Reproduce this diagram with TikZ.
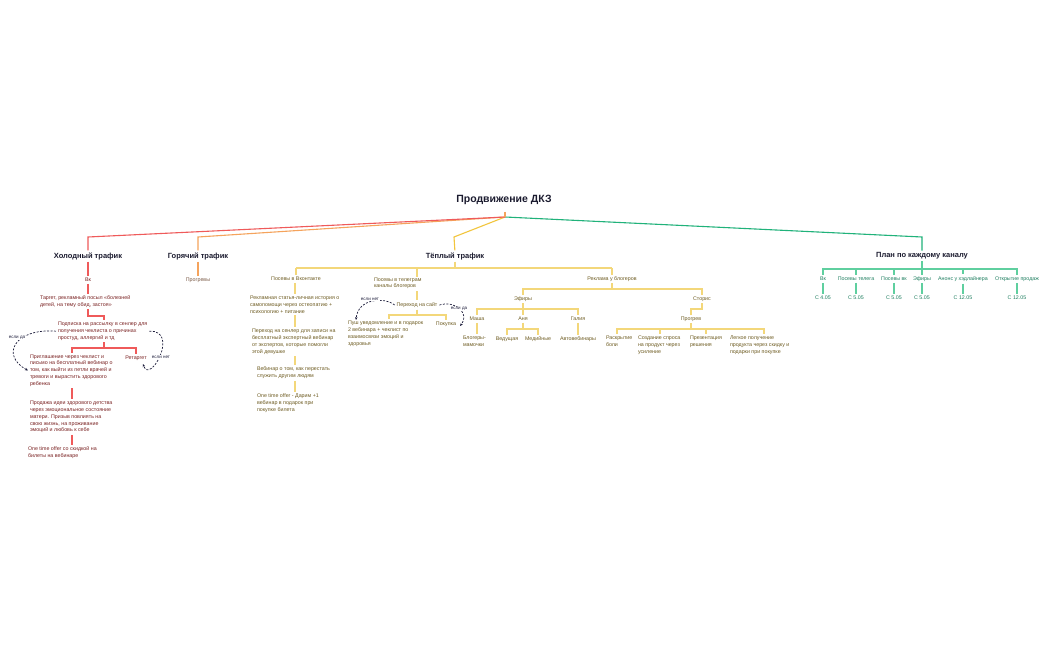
\documentclass[tikz,border=0pt]{standalone}
\usepackage{fontspec}
\setmainfont{Liberation Sans}
\usetikzlibrary{arrows.meta}
\definecolor{titlec}{HTML}{1B1B2F}
\definecolor{redl}{HTML}{EF5A5A}
\definecolor{redt}{HTML}{7A2222}
\definecolor{orl}{HTML}{F5A35C}
\definecolor{hott}{HTML}{7A5A46}
\definecolor{yell}{HTML}{F2C53D}
\definecolor{yelsub}{HTML}{F3D77A}
\definecolor{warmt}{HTML}{6E5C22}
\definecolor{grl}{HTML}{20B27A}
\definecolor{grsub}{HTML}{5FCF9F}
\definecolor{plant}{HTML}{1F7F60}
\definecolor{dashc}{HTML}{1B1B3A}
\begin{document}
\begin{tikzpicture}[x=1pt,y=-1pt,
 base/.style={inner sep=0pt, outer sep=0pt},
 ttl/.style={base, font=\fontsize{7.5}{9}\selectfont\bfseries, text=titlec},
 sm/.style={base, font=\fontsize{5.3}{6.8}\selectfont, align=left},
 ct/.style={sm, text=redt},
 ht/.style={sm, text=hott},
 wt/.style={sm, text=warmt},
 plt/.style={sm, text=plant},
 sh/.style={shorten <=2pt, shorten >=2pt},
 rl/.style={draw=redl, line width=1.1pt},
 ol/.style={draw=orl, line width=1.1pt},
 yl/.style={draw=yell, line width=1.1pt},
 ys/.style={draw=yelsub, line width=1.1pt},
 gl/.style={draw=grl, line width=1.1pt},
 gs/.style={draw=grsub, line width=1.1pt},
 dsh/.style={draw=dashc, dash pattern=on 2pt off 1.5pt, line width=0.7pt, -{Stealth[length=3pt,width=2.5pt]}},
 lbl/.style={base, fill=white, inner sep=0.6pt, font=\fontsize{4.5}{5}\selectfont, text=dashc}
]
\useasboundingbox[fill=white] (0,0) rectangle (1050,650);

% ---------- root ----------
\node[base, font=\fontsize{10.5}{12}\selectfont\bfseries, text=titlec] (root) at (504,200) {Продвижение ДКЗ};
\coordinate (hub) at (505,217);

% ---------- titles ----------
\node[ttl] (cold) at (88,256) {Холодный трафик};
\node[ttl] (hot) at (198,256) {Горячий трафик};
\node[ttl] (warm) at (455,256) {Тёплый трафик};
\node[ttl] (plan) at (922,256) {План по каждому каналу};

\draw[gl,shorten >=2pt] (hub) -- (922,237) -- (plan.north);
\draw[yl,shorten >=2pt] (hub) -- (454,237) -- (warm.north);
\draw[ol,shorten >=2pt] (hub) -- (198,237) -- (hot.north);
\draw[rl,shorten >=2pt] (hub) -- (88,237) -- (cold.north);
\draw[ol] ([yshift=-7pt]root.south -| hub) -- (hub);

% ---------- cold ----------
\node[ct] (cvk) at (88,280) {Вк};
\node[ct, anchor=north west] (targ) at (40,295.5) {Таргет, рекламный посыл «болезней\\детей, на тему обид, застоя»};
\node[ct, anchor=north west] (podp) at (58,322) {Подписка на рассылку в сенлер для\\получения чеклиста о причинах\\простуд, аллергий и тд};
\node[ct, anchor=north west] (prig) at (30,354.5) {Приглашение через чеклист и\\письмо на бесплатный вебинар о\\том, как выйти из петли врачей и\\тревоги и вырастить здорового\\ребенка};
\node[ct] (ret) at (136,358) {Ретаргет};
\node[ct, anchor=north west] (prod) at (30,401) {Продажа идеи здорового детства\\через эмоциональное состояние\\матери. Призыв повлиять на\\свою жизнь, на проживание\\эмоций и любовь к себе};
\node[ct, anchor=north west] (oto) at (28,447) {One time offer со скидкой на\\билеты на вебинаре};

\draw[rl,sh] (cold.south) -- (cvk.north);
\draw[rl,sh] (cvk.south) -- (targ.north -| cvk.south);
\draw[rl,sh] (targ.south -| cvk.south) -- (88,316) -| (podp.north -| 104,0);
\draw[rl,sh] (podp.south -| 104,0) -- (104,348) -| (prig.north -| 72,0);
\draw[rl,sh] (podp.south -| 104,0) -- (104,348) -| (ret.north);
\draw[rl,sh] (prig.south -| 72,0) -- (prod.north -| 72,0);
\draw[rl,sh] (prod.south -| 72,0) -- (oto.north -| 72,0);

\draw[dsh] ([xshift=-2pt]podp.west) .. controls (15,328) and (0,355) .. ([xshift=-2pt]prig.west);
\node[lbl] at (17,338) {если да};
\draw[dsh] ([xshift=2pt]podp.east) .. controls (180,330) and (150,385) .. (143,364);
\node[lbl] at (161,357) {если нет};

% ---------- hot ----------
\node[ht] (hprog) at (198,280) {Прогревы};
\draw[ol,sh] (hot.south) -- (hprog.north);

% ---------- warm ----------
\node[wt] (vk) at (296,279) {Посевы в Вконтакте};
\node[wt, anchor=north west] (tg) at (374,277.5) {Посевы в телеграм\\каналы блогеров};
\node[wt] (ads) at (612,279) {Реклама у блогеров};
\draw[ys,shorten <=2pt] (warm.south) -- (455,268);
\draw[ys] (296,268) -- (612,268);
\draw[ys,shorten >=2pt] (296,268) -- (vk.north);
\draw[ys,shorten >=1pt] (417,268) -- (tg.north -| 417,0);
\draw[ys,shorten >=2pt] (612,268) -- (ads.north);

% VK column
\node[wt, anchor=north west] (vk1) at (250,296) {Рекламная статья-личная история о\\самопомощи через остеопатию +\\психологию + питание};
\node[wt, anchor=north west] (vk2) at (252,329) {Переход на сенлер для записи на\\бесплатный экспертный вебинар\\от экспертов, которые помогли\\этой девушке};
\node[wt, anchor=north west] (vk3) at (257,367) {Вебинар о том, как перестать\\служить другим людям};
\node[wt, anchor=north west] (vk4) at (257,394) {One time offer - Дарим +1\\вебинар в подарок при\\покупке билета};
\draw[ys,sh] (vk.south -| 295,0) -- (vk1.north -| 295,0);
\draw[ys,sh] (vk1.south -| 295,0) -- (vk2.north -| 295,0);
\draw[ys,sh] (vk2.south -| 295,0) -- (vk3.north -| 295,0);
\draw[ys,sh] (vk3.south -| 295,0) -- (vk4.north -| 295,0);

% Telegram column
\node[wt] (site) at (417,305) {Переход на сайт};
\node[wt, anchor=north west] (push) at (348,321) {Пуш уведомление и в подарок\\2 вебинара + чеклист по\\взаимосвязи эмоций и\\здоровья};
\node[wt] (buy) at (446,324) {Покупка};
\draw[ys,sh] (tg.south -| 417,0) -- (site.north);
\draw[ys,sh] (site.south) -- (417,315) -| (push.north -| 389,0);
\draw[ys,sh] (site.south) -- (417,315) -| (buy.north);
\draw[dsh] ([xshift=-2pt]site.west) .. controls (385,297) and (358,298) .. ([xshift=8pt,yshift=1pt]push.north west);
\node[lbl] at (370,299) {если нет};
\draw[dsh] ([xshift=2pt]site.east) .. controls (456,300) and (470,314) .. ([xshift=4pt,yshift=-2pt]buy.east);
\node[lbl] at (459,309) {если да};

% Ads column
\node[wt] (efir) at (523,299) {Эфиры};
\node[wt] (stor) at (702,299) {Сторис};
\draw[ys,sh] (ads.south) -- (612,289) -| (efir.north);
\draw[ys,sh] (ads.south) -- (612,289) -| (stor.north);

\node[wt] (masha) at (477,319) {Маша};
\node[wt] (anya) at (523,319) {Аня};
\node[wt] (galia) at (578,319) {Галия};
\draw[ys,sh] (efir.south) -- (523,309) -| (masha.north);
\draw[ys,sh] (efir.south) -- (anya.north);
\draw[ys,sh] (efir.south) -- (523,309) -| (galia.north);

\node[wt, anchor=north west] (mam) at (463,336) {Блогеры-\\мамочки};
\node[wt] (ved) at (507,339) {Ведущая};
\node[wt] (med) at (538,339) {Медийные};
\node[wt] (auto) at (578,339) {Автовебинары};
\draw[ys,sh] (masha.south) -- (mam.north -| masha.south);
\draw[ys,sh] (anya.south) -- (523,329) -| (ved.north);
\draw[ys,sh] (anya.south) -- (523,329) -| (med.north);
\draw[ys,sh] (galia.south) -- (auto.north);

\node[wt] (progr) at (691,319) {Прогрев};
\draw[ys,sh] (stor.south) -- (702,309) -| (progr.north);
\node[wt, anchor=north west] (rask) at (606,336) {Раскрытие\\боли};
\node[wt, anchor=north west] (sozd) at (638,336) {Создание спроса\\на продукт через\\усиление};
\node[wt, anchor=north west] (prez) at (690,336) {Презентация\\решения};
\node[wt, anchor=north west] (legk) at (730,336) {Легкое получение\\продукта через скидку и\\подарки при покупке};
\draw[ys,sh] (progr.south) -- (691,329) -| (rask.north -| 617,0);
\draw[ys,sh] (progr.south) -- (691,329) -| (sozd.north -| 660,0);
\draw[ys,sh] (progr.south) -- (691,329) -| (prez.north -| 706,0);
\draw[ys,sh] (progr.south) -- (691,329) -| (legk.north -| 764,0);

% ---------- plan ----------
\node[plt] (p1) at (823,279) {Вк};
\node[plt] (p2) at (856,279) {Посевы телега};
\node[plt] (p3) at (894,279) {Посевы вк};
\node[plt] (p4) at (922,279) {Эфиры};
\node[plt] (p5) at (963,279) {Анонс у хэдлайнера};
\node[plt] (p6) at (1017,279) {Открытие продаж};
\node[plt] (d1) at (823,298) {С 4.05};
\node[plt] (d2) at (856,298) {С 5.05};
\node[plt] (d3) at (894,298) {С 5.05};
\node[plt] (d4) at (922,298) {С 5.05};
\node[plt] (d5) at (963,298) {С 12.05};
\node[plt] (d6) at (1017,298) {С 12.05};
\foreach \i in {1,...,6}{
  \draw[gs,sh] (plan.south) -- (922,269) -| (p\i.north);
  \draw[gs,sh] (p\i.south) -- (d\i.north);
}
\end{tikzpicture}
\end{document}
